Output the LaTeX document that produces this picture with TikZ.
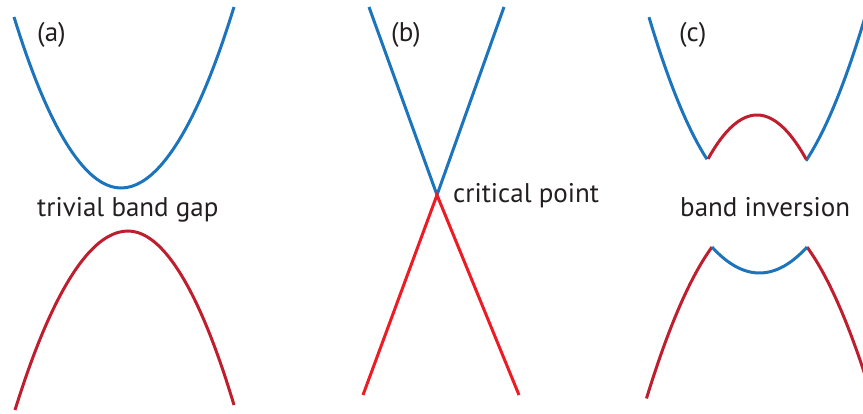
\documentclass[tikz,border=0pt]{standalone}
\usepackage{fontspec}
\setmainfont{PT Sans}
\usetikzlibrary{positioning}
\definecolor{cBlue}{HTML}{1C75BC}
\definecolor{cRed}{HTML}{BE1E2D}
\definecolor{cRedB}{HTML}{ED1C24}
\definecolor{cInk}{HTML}{231F20}
\begin{document}
\begin{tikzpicture}[
  x=1pt,y=-1pt,
  band/.style={line width=3pt},
  vb/.style={band,color=cBlue},
  cb/.style={band,color=cRed},
  lbl/.style={font=\fontsize{27}{30}\selectfont,color=cInk,inner sep=0pt,anchor=base west},
]
\useasboundingbox (0,0) rectangle (863,414);
\clip (0,0) rectangle (863,414);

% ============================================================ (a) trivial gap
\draw[vb] (14,17) parabola bend (121,188) (234,7);
\draw[cb] (15,410) parabola bend (128,231) (234,405);
\node[lbl] (labA) at (37,42) {(a)};
\node[lbl] (gapA) at (37,217) {trivial band gap};

% ============================================================ (b) critical point
\coordinate (cross) at (437,195);
\draw[vb] (369,7) -- (cross) -- (504,7);
\draw[band,color=cRedB] (363,395) -- (cross) -- (519,395);
\node[lbl] (labB) at (391,42) {(b)};
\node[lbl] (crit) at (453,203) {critical point};

% ============================================================ (c) inversion
% upper band: blue outside, red arch inside
\draw[vb] plot[domain=-108:-50,samples=40] ({757+\x},{198-0.0155*\x*\x});
\draw[vb] plot[domain=49:112,samples=40] ({757+\x},{198-0.0155*\x*\x});
\draw[cb] plot[domain=-49:49,samples=40] ({757+\x},{115+0.0183*\x*\x});
% lower band: red outside, blue dip inside
\draw[cb] plot[domain=-113:-47.5,samples=40] ({759.5+\x},{214.5+0.0144*\x*\x});
\draw[cb] plot[domain=47.5:110,samples=40] ({759.5+\x},{214.5+0.0144*\x*\x});
\draw[vb] plot[domain=-47.5:47.5,samples=40] ({759.5+\x},{273-0.0115*\x*\x});
\node[lbl] (labC) at (679,42) {(c)};
\node[lbl] (inv) at (680,217) {band inversion};

\end{tikzpicture}
\end{document}
